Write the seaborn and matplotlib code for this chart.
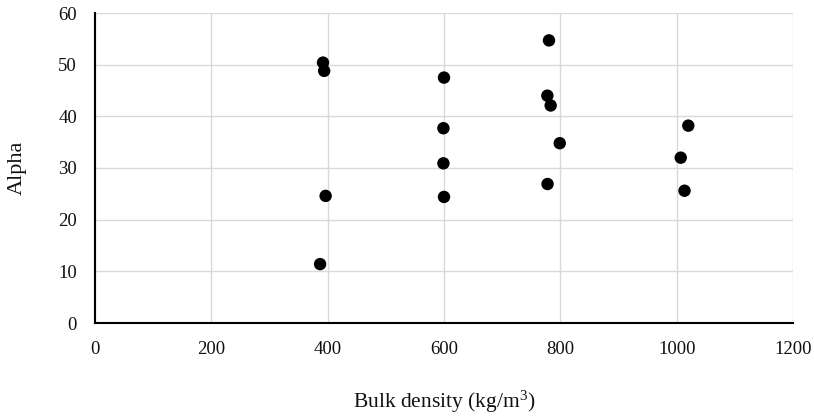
import matplotlib
matplotlib.use("Agg")
import matplotlib.pyplot as plt
import seaborn as sns
import pandas as pd

bulk_density = [392, 394, 396.5, 387, 600, 599, 599, 600, 780.5, 777.7, 783.4, 799, 778, 1020, 1007, 1013.5]
alpha = [50.4, 48.8, 24.6, 11.4, 47.5, 37.7, 30.9, 24.4, 54.7, 44.0, 42.1, 34.8, 26.9, 38.2, 32.0, 25.6]
x_ticks = [0, 200, 400, 600, 800, 1000, 1200]
y_ticks = [0, 10, 20, 30, 40, 50, 60]

df = pd.DataFrame({"x": bulk_density, "y": alpha})

sns.set_theme(style="white")
plt.rcParams['font.family'] = ['Liberation Serif', 'DejaVu Serif']
plt.rcParams['mathtext.fontset'] = 'custom'
plt.rcParams['mathtext.rm'] = 'Liberation Serif'

fig = plt.figure(figsize=(8.14, 4.18), dpi=100)
ax = fig.add_axes([95/814, 1-323/418, 698/814, 310/418])

sns.scatterplot(data=df, x="x", y="y", ax=ax, color="black", s=80, edgecolor="none", zorder=3)

ax.set_xlim(0, 1200)
ax.set_ylim(0, 60)
ax.set_xticks(x_ticks)
ax.set_yticks(y_ticks)
ax.grid(True, color="#d9d9d9", linewidth=1.0)
ax.set_axisbelow(True)
for s in ["top", "right"]:
    ax.spines[s].set_visible(False)
for s in ["left", "bottom"]:
    ax.spines[s].set_color("black")
    ax.spines[s].set_linewidth(1.5)
ax.tick_params(axis="both", length=0, labelsize=13.5, colors="#111111")
ax.tick_params(axis="x", pad=13)
ax.tick_params(axis="y", pad=13)

ax.set_xlabel("Bulk density (kg/m$\\mathrm{^3}$)", fontsize=15.5, color="#111111", va="center")
ax.set_ylabel("Alpha", fontsize=16, color="#111111", va="center")
ax.xaxis.set_label_coords(0.5, (323-402)/310)
ax.yaxis.set_label_coords((17-95)/698, 0.5)

fig.savefig("out.png", dpi=100)
